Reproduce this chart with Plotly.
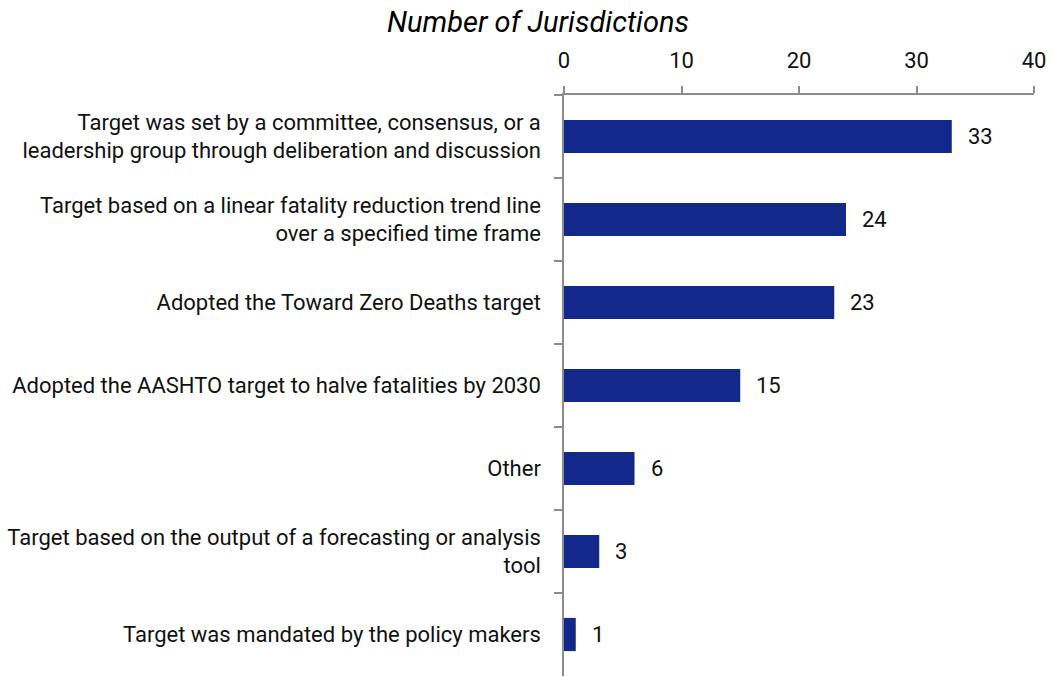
import plotly.graph_objects as go

categories = [
    "Target was set by a committee, consensus, or a<br>leadership group through deliberation and discussion",
    "Target based on a linear fatality reduction trend line<br>over a specified time frame",
    "Adopted the Toward Zero Deaths target",
    "Adopted the AASHTO target to halve fatalities by 2030",
    "Other",
    "Target based on the output of a forecasting or analysis<br>tool",
    "Target was mandated by the policy makers",
]
counts = [33, 24, 23, 15, 6, 3, 1]
tick_vals = [0, 10, 20, 30, 40]

FONT = "Roboto"
BAR = "#12288A"

fig = go.Figure(go.Bar(
    x=counts, y=categories, orientation="h",
    marker=dict(color=BAR, line=dict(width=0)),
    width=0.4,
))

for c, v in zip(categories, counts):
    fig.add_annotation(x=v, y=c, text=str(v), showarrow=False,
                       xanchor="left", xshift=14,
                       font=dict(family=FONT, size=22, color="#111"))

fig.add_annotation(text="<i>Number of Jurisdictions</i>", xref="paper", yref="paper",
                   x=-0.055, y=1.0, yshift=73, showarrow=False,
                   xanchor="center", yanchor="middle",
                   font=dict(family=FONT, size=29, color="#000"))

fig.update_layout(
    width=1053, height=677,
    margin=dict(l=564, r=19, t=95, b=1, autoexpand=False),
    plot_bgcolor="white", paper_bgcolor="white",
    showlegend=False,
    xaxis=dict(side="top", range=[0, 40], tickvals=tick_vals,
               showline=True, linecolor="#8c8c8c", linewidth=1.5,
               ticks="outside", ticklen=7, tickcolor="#8c8c8c", tickwidth=1.5,
               showgrid=False, zeroline=False, automargin=False,
               ticklabelstandoff=9,
               tickfont=dict(family=FONT, size=22, color="#111")),
    yaxis=dict(autorange="reversed", showline=True, linecolor="#8c8c8c", linewidth=1.5,
               ticks="outside", ticklen=8, tickcolor="#8c8c8c", tickwidth=1.5,
               tickson="boundaries", showgrid=False, automargin=False,
               ticklabelstandoff=17,
               tickfont=dict(family=FONT, size=22, color="#111")),
)

fig.write_html("out.html", config={"displayModeBar": False},
               post_script="document.body.style.margin='0';")
